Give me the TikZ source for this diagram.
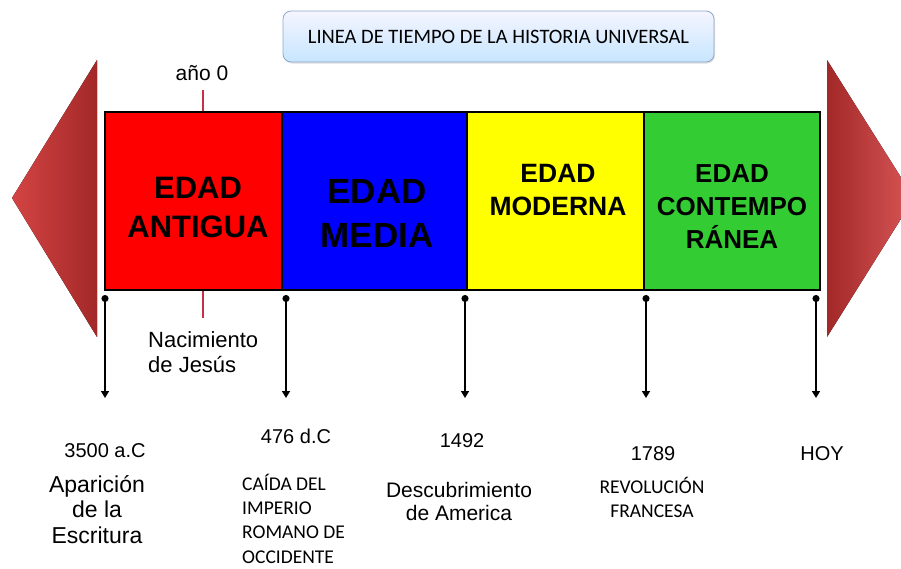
\documentclass[tikz,border=0pt]{standalone}
\usepackage{fontspec}
\setmainfont{Liberation Sans}
\newfontfamily\calibri{Carlito}
\usetikzlibrary{arrows.meta,shadows}
\definecolor{rojoA}{HTML}{FF0000}
\definecolor{azulM}{HTML}{0000FF}
\definecolor{amarilloMo}{HTML}{FFFF00}
\definecolor{verdeC}{HTML}{33CC33}
\definecolor{marcaroja}{HTML}{C8304A}
\definecolor{bordetit}{HTML}{8EA6CC}
\definecolor{flechaclara}{HTML}{D44444}
\definecolor{flechaoscura}{HTML}{A32828}

\begin{document}
\begin{tikzpicture}[x=1pt,y=-1pt,
  edad/.style={draw=black,line width=1.6pt,anchor=north west,inner sep=0pt,minimum height=178pt},
  rotulo/.style={anchor=base,inner sep=0pt,align=center,font=\bfseries},
  fecha/.style={anchor=base,inner sep=0pt,align=center,font=\fontsize{20}{25}\selectfont},
  hito/.style={line width=1.6pt,{Circle[length=7pt]}-{Triangle[length=7pt,width=8pt]}},
  marca/.style={draw=marcaroja,line width=2pt}]
\useasboundingbox (0,0) rectangle (901,568);

% flechas de los extremos
\fill[left color=flechaclara, right color=flechaoscura] (12,198) -- (97,60) -- (97,337) -- cycle;
\fill[left color=flechaoscura, right color=flechaclara!90!white] (827,60) -- (914,198) -- (827,337) -- cycle;

% titulo
\node[draw=bordetit,line width=0.8pt,rounded corners=8pt,top color=blue!4,bottom color=blue!45!cyan!22,
  drop shadow={opacity=0.25,shadow xshift=1pt,shadow yshift=-1.5pt},
  minimum width=431pt,minimum height=51pt,font=\calibri\fontsize{20.5}{24}\selectfont] (titulo) at (498.5,36.5)
  {LINEA DE TIEMPO DE LA HISTORIA UNIVERSAL};

% edades
\node[edad,fill=rojoA,minimum width=177pt] (antigua) at (104,111) {};
\node[edad,fill=azulM,minimum width=185pt] (media) at (281,111) {};
\node[edad,fill=amarilloMo,minimum width=177pt] (moderna) at (466,111) {};
\node[edad,fill=verdeC,minimum width=176pt] (contemp) at (643,111) {};

% (anchor=base cae en la ultima linea)
\node[rotulo,font=\bfseries\fontsize{31}{39}\selectfont] (tantigua) at (198,237) {EDAD\\ANTIGUA};
\node[rotulo,font=\bfseries\fontsize{35}{44}\selectfont] (tmedia) at (377,247) {EDAD\\MEDIA};
\node[rotulo,font=\bfseries\fontsize{26.5}{33}\selectfont] (tmoderna) at (558,215) {EDAD\\MODERNA};
\node[rotulo,font=\bfseries\fontsize{26}{33}\selectfont] (tcontemp) at (732,248) {EDAD\\CONTEMPO\\RÁNEA};

% año 0
\coordinate (cero) at (203,90);
\coordinate (nac) at (203,318);
\node[anchor=base,inner sep=0pt,font=\fontsize{21}{25}\selectfont] (anio) at (202,80) {año 0};
\draw[marca] (cero) -- (cero |- antigua.north);
\draw[marca] (cero |- antigua.south) -- (nac);
\node[anchor=base west,inner sep=0pt,align=left,font=\fontsize{22}{25}\selectfont] (jesus) at (148,372) {Nacimiento\\de Jesús};

% hitos
\foreach \n/\x in {1/105,2/286,3/465,4/646,5/816}
  {
    \coordinate (arriba\n) at (\x,295);
    \coordinate (abajo\n) at (\x,398);
    \draw[hito] (arriba\n) -- (abajo\n);
  }

\node[fecha] (f1) at (105,457) {3500 a.C};
\node[fecha] (f2) at (296,443) {476 d.C};
\node[fecha] (f3) at (462,447) {1492};
\node[fecha] (f4) at (653,460) {1789};
\node[fecha] (f5) at (822,460) {HOY};

\node[anchor=base,inner sep=0pt,align=center,font=\fontsize{23}{25.5}\selectfont] (escritura) at (97,543) {Aparición\\de la\\Escritura};
\node[anchor=base west,inner sep=0pt,align=left,font=\calibri\fontsize{19.5}{24.3}\selectfont] (roma) at (242,563) {CAÍDA DEL\\IMPERIO\\ROMANO DE\\OCCIDENTE};
\node[anchor=base,inner sep=0pt,align=center,font=\fontsize{21}{23}\selectfont] (america) at (459,520) {Descubrimiento\\de America};
\node[anchor=base,inner sep=0pt,align=center,font=\calibri\fontsize{19.5}{24}\selectfont] (revolucion) at (652,517) {REVOLUCIÓN\\FRANCESA};
\end{tikzpicture}
\end{document}
